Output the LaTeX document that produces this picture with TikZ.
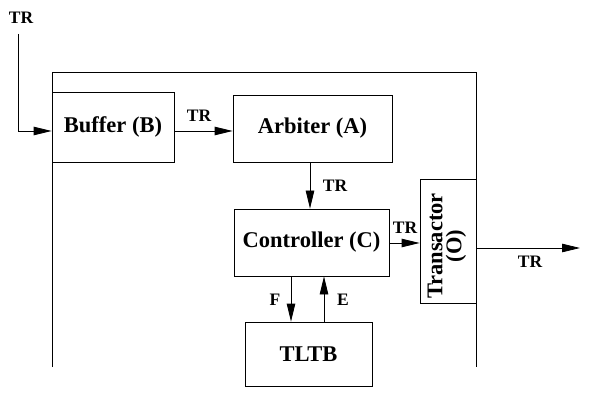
\documentclass[tikz,border=0pt]{standalone}
\usepackage{fontspec}
\setmainfont{Liberation Serif}
\usetikzlibrary{arrows.meta}
\begin{document}
\begin{tikzpicture}[x=1pt,y=-1pt,
  line width=0.8pt,
  box/.style={draw, fill=white, font=\fontsize{22.5}{22}\selectfont\bfseries, inner sep=0pt},
  lbl/.style={font=\fontsize{17.5}{17}\selectfont\bfseries, inner sep=0pt},
  arr/.style={-{Triangle[length=18pt,width=8.5pt]}}]
\useasboundingbox (0,0) rectangle (602,395);
% frame
\coordinate (f1) at (52,367);
\coordinate (f2) at (52,72);
\coordinate (f3) at (476,72);
\coordinate (f4) at (476,367);
\draw (f1) -- (f2) -- (f3) -- (f4);
% boxes
\node[box, minimum width=122pt, minimum height=70pt] (B) at (113,127) {Buffer (B)};
\node[box, minimum width=159pt, minimum height=67pt] (A) at (312.5,128.5) {Arbiter (A)};
\node[box, minimum width=155pt, minimum height=67pt] (C) at (311.5,242.5) {Controller (C)};
\node[box, minimum width=127pt, minimum height=64pt] (T) at (308.5,354) {TLTB};
\node[box, minimum width=56pt, minimum height=124pt] (O) at (448,241) {};
\node[font=\fontsize{22.5}{19}\selectfont\bfseries, rotate=90, align=center, inner sep=0pt] (Otxt) at (447,246) {Transactor\\(O)};
% input
\coordinate (in) at (18,34);
\node[lbl] (tin) at (21,18) {TR};
\draw[arr] (in) |- (B.west |- 0,131);
% B -> A
\draw[arr] (B.east |- 0,131) -- (A.west |- 0,131);
\node[lbl] (t1) at (199,116) {TR};
% A -> C
\draw[arr] (A.south -| 310,0) -- (C.north -| 310,0);
\node[lbl] (t2) at (335,186) {TR};
% C -> O
\draw[arr] (C.east |- 0,243) -- (O.west |- 0,243);
\node[lbl] (t3) at (405,228) {TR};
% O -> out
\coordinate (out) at (580,248);
\draw[arr] (O.east |- out) -- (out);
\node[lbl] (t4) at (530,262) {TR};
% F and E
\draw[arr] (C.south -| 291,0) -- (T.north -| 291,0);
\node[lbl] (tf) at (275,300) {F};
\draw[arr] (T.north -| 324,0) -- (C.south -| 324,0);
\node[lbl] (te) at (343,300) {E};
\end{tikzpicture}
\end{document}
